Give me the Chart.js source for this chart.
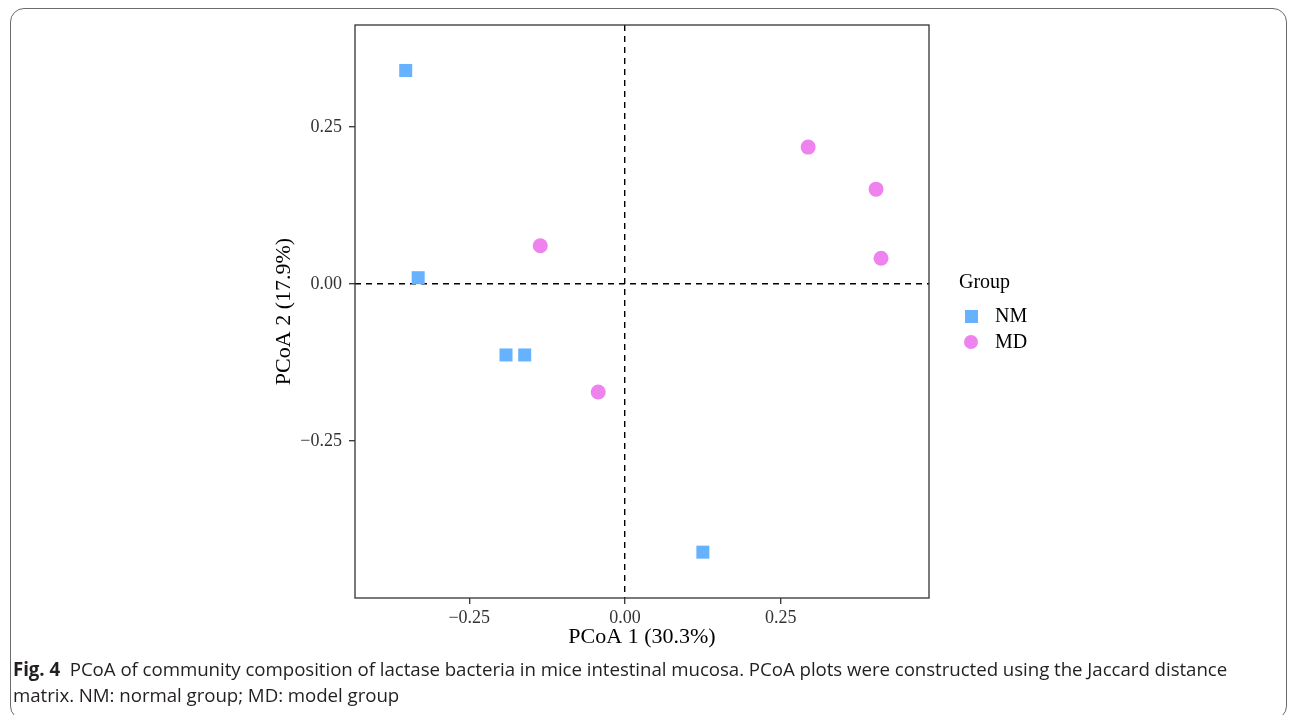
<!DOCTYPE html>
<html>
<head>
<meta charset="utf-8">
<script src="https://cdn.jsdelivr.net/npm/chart.js@4.4.1/dist/chart.umd.min.js"></script>
<style>
    body { margin: 0; background: #fff; }
    #frame {
        position: absolute; left: 10px; top: 8px; width: 1277px; height: 712px;
        border: 1.5px solid #6b6b6b; border-radius: 14px; box-sizing: border-box;
    }
    #wrap { position: absolute; left: 0; top: 0; width: 1293px; height: 715px; }
    #legend {
        position: absolute; left: 959px; top: 270px;
        font-family: "Liberation Serif", serif; font-size: 20px; color: #000;
    }
    #legend .row { position: relative; height: 26px; }
    #legend .title { margin-bottom: 8px; }
    #legend .mark { position: absolute; left: 6px; top: 6px; width: 13px; height: 13px; }
    #legend .lab { position: absolute; left: 36px; top: 0; }
    #caption {
        position: absolute; left: 13px; top: 656px; width: 1250px;
        font-family: "Open Sans", sans-serif; font-size: 18.7px; line-height: 26px; color: #231f20;
        letter-spacing: -0.05px;
    }
</style>
</head>
<body>
<div id="frame"></div>
<div id="wrap"><canvas id="myChart"></canvas></div>
<div id="legend"></div>
<div id="caption"><b>Fig. 4</b>&nbsp; PCoA of community composition of lactase bacteria in mice intestinal mucosa. PCoA plots were constructed using the Jaccard distance<br>matrix. NM: normal group; MD: model group</div>
<script>
const groups = ["NM", "MD"];
const colors = ["#66b2ff", "#ee82ee"];
const nmX = [-0.352, -0.332, -0.191, -0.161, 0.125];
const nmY = [0.340, 0.010, -0.113, -0.113, -0.427];
const mdX = [0.294, 0.403, 0.411, -0.136, -0.043];
const mdY = [0.218, 0.151, 0.041, 0.061, -0.172];
const tickValues = [-0.25, 0, 0.25];
const xTitle = "PCoA 1 (30.3%)";
const yTitle = "PCoA 2 (17.9%)";

function toPoints(xs, ys) {
    return xs.map((x, i) => ({ x: x, y: ys[i] }));
}

function fmt(v) {
    return v < 0 ? '\u2212' + Math.abs(v).toFixed(2) : v.toFixed(2);
}

const frameBox = {
    id: 'frameBox',
    afterDatasetsDraw(chart) {
        const a = chart.chartArea;
        const c = chart.ctx;
        c.save();
        c.strokeStyle = '#333';
        c.lineWidth = 1.3;
        c.strokeRect(a.left, a.top, a.right - a.left, a.bottom - a.top);
        c.restore();
    }
};

const zeroGrid = {
    display: true,
    drawOnChartArea: true,
    color: c => (c.tick && c.tick.value === 0) ? '#000' : 'rgba(0,0,0,0)',
    lineWidth: 1.4,
    tickColor: '#333',
    tickWidth: 1.3,
    tickLength: 6
};

document.addEventListener('DOMContentLoaded', function() {
    const ctx = document.getElementById('myChart').getContext('2d');

    const datasets = [
        {
            label: groups[0],
            data: toPoints(nmX, nmY),
            backgroundColor: colors[0],
            borderWidth: 0,
            pointStyle: 'rect',
            pointRadius: 9.2
        },
        {
            label: groups[1],
            data: toPoints(mdX, mdY),
            backgroundColor: colors[1],
            borderWidth: 0,
            pointStyle: 'circle',
            pointRadius: 7.5
        }
    ];

    new Chart(ctx, {
        type: 'scatter',
        data: { datasets: datasets },
        plugins: [frameBox],
        options: {
            responsive: true,
            maintainAspectRatio: false,
            animation: false,
            layout: { padding: { left: 267, right: 364, top: 25, bottom: 61 } },
            plugins: {
                legend: { display: false },
                tooltip: { enabled: false }
            },
            scales: {
                x: {
                    type: 'linear',
                    min: -0.4334,
                    max: 0.488,
                    afterBuildTicks: s => { s.ticks = tickValues.map(v => ({ value: v })); },
                    afterFit: s => { s.height = 56; },
                    grid: zeroGrid,
                    border: { display: false, dash: [6, 5] },
                    ticks: {
                        color: '#333',
                        padding: 3,
                        font: { family: 'Liberation Serif', size: 18 },
                        callback: v => fmt(v)
                    },
                    title: {
                        display: true,
                        text: xTitle,
                        color: '#000',
                        padding: { top: 0, bottom: 4 },
                        font: { family: 'Liberation Serif', size: 22 }
                    }
                },
                y: {
                    type: 'linear',
                    min: -0.5,
                    max: 0.4124,
                    afterBuildTicks: s => { s.ticks = tickValues.map(v => ({ value: v })); },
                    afterFit: s => { s.width = 88; },
                    grid: zeroGrid,
                    border: { display: false, dash: [6, 5] },
                    ticks: {
                        color: '#333',
                        padding: 7,
                        font: { family: 'Liberation Serif', size: 18 },
                        callback: v => fmt(v)
                    },
                    title: {
                        display: true,
                        text: yTitle,
                        color: '#000',
                        padding: { top: 4, bottom: 0 },
                        font: { family: 'Liberation Serif', size: 22 }
                    }
                }
            }
        }
    });

    // legend in the ggplot style
    const legend = document.getElementById('legend');
    let html = '<div class="row title">Group</div>';
    groups.forEach((g, i) => {
        const round = i === 1 ? 'border-radius:50%;width:14px;height:14px;left:5px;top:5px;' : '';
        html += '<div class="row"><span class="mark" style="background:' + colors[i] + ';' + round + '"></span>' +
            '<span class="lab">' + g + '</span></div>';
    });
    legend.innerHTML = html;
});
</script>
</body>
</html>
